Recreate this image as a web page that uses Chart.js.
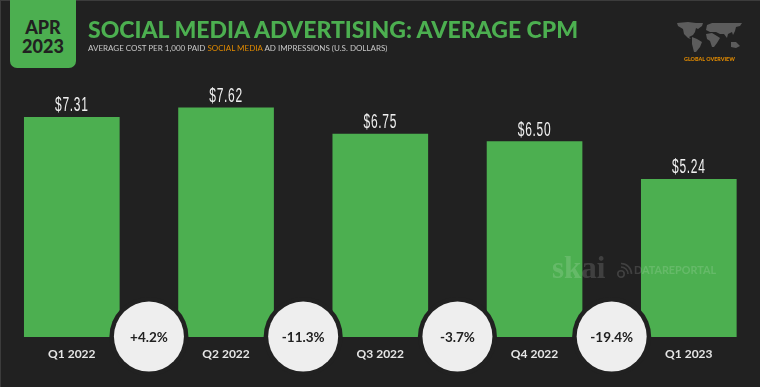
<!DOCTYPE html>
<html>
<head>
<meta charset="utf-8">
<title>Social media advertising: average CPM</title>
<script src="https://cdn.jsdelivr.net/npm/chart.js@4"></script>
<style>
    html, body { margin: 0; padding: 0; background: #212121; }
    #page { position: relative; width: 760px; height: 387px; overflow: hidden; background: #212121; font-family: Lato, sans-serif; }
    #page canvas { position: absolute; left: 0; top: 0; }
    .edge-top { position: absolute; left: 0; top: 0; width: 760px; height: 1px; background: #3c3c3c; }
    .edge-left { position: absolute; left: 0; top: 0; width: 1px; height: 387px; background: #3c3c3c; }
    .badge { position: absolute; left: 10px; top: 0; width: 66px; height: 68px; background: #4caf50; border-radius: 0 0 7px 7px; color: #212121; text-align: center; font-weight: 900; font-size: 18px; line-height: 19px; }
    .badge div:first-child { margin-top: 18px; }
    h1 { position: absolute; left: 88px; top: 15px; margin: 0; color: #4caf50; font: 900 23px/28px Lato, sans-serif; white-space: nowrap; }
    .sub { position: absolute; left: 88px; top: 42px; color: #c8c8c8; font-size: 8px; line-height: 13px; white-space: nowrap; }
    .sub b { color: #e08a00; font-weight: 400; }
    .overview { position: absolute; left: 684px; top: 55px; color: #e08a00; font-size: 5.4px; font-weight: 900; line-height: 8px; white-space: nowrap; }
    #map { position: absolute; left: 676px; top: 20px; }
    .skai { position: absolute; left: 552px; top: 252px; color: #fff; opacity: .14; font: 700 31px/32px "Liberation Serif", serif; }
    .dr { position: absolute; left: 634px; top: 263px; color: #fff; opacity: .14; font-size: 10.8px; font-weight: 700; line-height: 14px; white-space: nowrap; }
    #drIcon { position: absolute; left: 616px; top: 262px; opacity: .14; }
</style>
</head>
<body>
<div id="page">
    <canvas id="cpmChart" width="760" height="387"></canvas>
    <div class="edge-top"></div>
    <div class="edge-left"></div>
    <div class="badge"><div>APR</div><div>2023</div></div>
    <h1>SOCIAL MEDIA ADVERTISING: AVERAGE CPM</h1>
    <div class="sub">AVERAGE COST PER 1,000 PAID <b>SOCIAL MEDIA</b> AD IMPRESSIONS (U.S. DOLLARS)</div>
    <svg id="map" width="70" height="36" viewBox="0 0 70 36">
        <path fill="#5c5c5c" d="M1 3 L12 2 L20 3 L27 3 L26 6 L22 9 L20 8 L19 12 L17 15 L13 17 L15 19 L12 18 L8 14 L7 9 L2 6Z M16 17 L21 19 L26 22 L24 27 L20 32 L18 32 L16 24Z M31 5 L36 3 L50 3 L66 3 L64 6 L60 7 L59 11 L57 15 L56 12 L52 14 L51 18 L48 14 L44 14 L40 12 L34 12 L30 10Z M30 14 L36 13 L41 16 L44 18 L41 23 L38 27 L36 27 L34 21 L31 19Z M55 22 L60 22 L64 26 L60 28 L55 27Z"/>
    </svg>
    <div class="overview">GLOBAL OVERVIEW</div>
    <div class="skai">skai</div>
    <svg id="drIcon" width="17" height="17" viewBox="0 0 17 17" fill="none" stroke="#fff" stroke-width="1.6">
        <circle cx="5" cy="12" r="3.2"/>
        <path d="M5 5 A7 7 0 0 1 12 12"/>
        <path d="M5 1.5 A10.5 10.5 0 0 1 15.5 12"/>
    </svg>
    <div class="dr">DATAREPORTAL</div>
</div>
<script>
    const categories = ['Q1 2022', 'Q2 2022', 'Q3 2022', 'Q4 2022', 'Q1 2023'];
    const cpmValues = [7.31, 7.62, 6.75, 6.50, 5.24];
    const valueLabels = ['$7.31', '$7.62', '$6.75', '$6.50', '$5.24'];
    const changeLabels = ['+4.2%', '-11.3%', '-3.7%', '-19.4%'];

    // 막대 위 값 레이블
    const valueLabelPlugin = {
        id: 'valueLabels',
        afterDatasetsDraw(chart) {
            const { ctx } = chart;
            const meta = chart.getDatasetMeta(0);
            ctx.font = '20px "Liberation Sans", sans-serif';
            ctx.fillStyle = '#f0f0f0';
            ctx.textAlign = 'center';
            ctx.textBaseline = 'alphabetic';
            meta.data.forEach((bar, i) => {
                ctx.save();
                // 좁은 글꼴처럼 보이도록 가로만 줄임
                ctx.translate(bar.x, bar.y - 6);
                ctx.scale(0.6, 1);
                ctx.letterSpacing = '1.2px';
                ctx.fillText(valueLabels[i], 0, 0);
                ctx.restore();
            });
        },
    };

    // 분기 사이의 변화율 원
    const changeBubblePlugin = {
        id: 'changeBubbles',
        afterDatasetsDraw(chart) {
            const { ctx, scales } = chart;
            const base = scales.y.getPixelForValue(0);
            ctx.save();
            changeLabels.forEach((label, i) => {
                const x = (scales.x.getPixelForValue(i) + scales.x.getPixelForValue(i + 1)) / 2;
                ctx.beginPath();
                ctx.arc(x, base, 39.5, 0, Math.PI * 2);
                ctx.fillStyle = '#212121';
                ctx.fill();
                ctx.beginPath();
                ctx.arc(x, base, 35, 0, Math.PI * 2);
                ctx.fillStyle = '#eeeeee';
                ctx.fill();
                ctx.fillStyle = '#212121';
                ctx.font = '700 13.5px Lato, sans-serif';
                ctx.textAlign = 'center';
                ctx.textBaseline = 'middle';
                ctx.fillText(label, x, base + 1);
            });
            ctx.restore();
        },
    };

    new Chart(document.getElementById('cpmChart').getContext('2d'), {
        type: 'bar',
        data: {
            labels: categories,
            datasets: [{
                data: cpmValues,
                backgroundColor: '#4caf50',
                barThickness: 95,
                clip: false,
            }],
        },
        options: {
            responsive: false,
            animation: false,
            layout: { padding: { top: 96.5, left: 71.8, right: 71.2, bottom: 24 } },
            plugins: {
                legend: { display: false },
                title: { display: false },
                tooltip: { enabled: false },
            },
            scales: {
                x: {
                    offset: false,
                    border: { display: false },
                    grid: { display: false },
                    ticks: {
                        color: '#e6e6e6',
                        font: { family: 'Lato, sans-serif', size: 12, weight: '700' },
                        maxRotation: 0,
                        autoSkip: false,
                        padding: 2,
                    },
                },
                y: {
                    display: false,
                    min: 0,
                    max: 8,
                },
            },
        },
        plugins: [valueLabelPlugin, changeBubblePlugin],
    });
</script>
</body>
</html>
